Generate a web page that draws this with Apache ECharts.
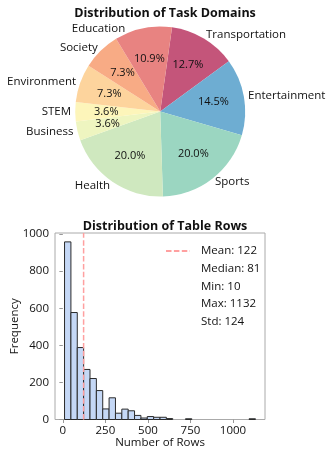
<!DOCTYPE html>
<html><head><meta charset="utf-8">
<script src="https://cdn.jsdelivr.net/npm/echarts@6/dist/echarts.min.js"></script>
<style>html,body{margin:0;padding:0;background:#fff}#c{width:333px;height:454px}</style>
</head><body><div id="c"></div>
<script>
// ---- Pie data ----
const domainNames = ['Transportation','Entertainment','Sports','Health','Business','STEM','Environment','Society','Education'];
const domainCounts = [7, 8, 11, 11, 2, 2, 4, 4, 6];
const domainColors = ['#c4557a','#6eadd2','#9bd6c1','#cfe8bf','#eef5c0','#fdf5ba','#fdd49d','#f8ab85','#e88381'];

// ---- Histogram data ----
const rowBinMin = 10, rowBinMax = 1132, rowBinCount = 30;
const rowFrequencies = [958,577,388,270,221,156,57,117,34,56,47,22,8,16,12,12,5,0,0,4,0,0,0,0,0,0,0,0,0,4];
const meanRows = 122;
const rowStats = ['Mean: 122','Median: 81','Min: 10','Max: 1132','Std: 124'];
const xTicks = [0, 250, 500, 750, 1000];
const yTicks = [0, 200, 400, 600, 800, 1000];

const FONT = 'Open Sans';
const total = domainCounts.reduce((a,b)=>a+b,0);
const pieData = domainNames.map((n,i)=>({name:n, value:domainCounts[i], itemStyle:{color:domainColors[i]}}));

const binW = (rowBinMax - rowBinMin) / rowBinCount;
const histData = [];
rowFrequencies.forEach((c,i)=>{ if (c > 0) histData.push([rowBinMin + i*binW, rowBinMin + (i+1)*binW, c]); });

const PIE_C = [160.2, 111.5], PIE_R = 85;

const chart = echarts.init(document.getElementById('c'), null, {renderer:'canvas'});
chart.setOption({
  animation: false,
  textStyle: {fontFamily: FONT},
  title: [
    {text:'Distribution of Task Domains', left:160, top:2, textAlign:'center',
     textStyle:{fontSize:12.5, fontWeight:'bold', color:'#111', fontFamily:FONT}},
    {text:'Distribution of Table Rows', left:160, top:215, textAlign:'center',
     textStyle:{fontSize:12.5, fontWeight:'bold', color:'#111', fontFamily:FONT}}
  ],
  grid: {left:55, right:68, top:233, bottom:34.5, show:true, borderColor:'#aaa', borderWidth:1,
         backgroundColor:'transparent', containLabel:false, outerBoundsMode:'none'},
  xAxis: {type:'value', min:-46.1, max:1188.1,
    name:'Number of Rows', nameLocation:'middle', nameGap:17, nameMoveOverlap:false,
    nameTextStyle:{fontSize:11.5, color:'#111', fontFamily:FONT},
    splitLine:{show:false}, axisLine:{show:false},
    axisTick:{show:true, length:3.5, lineStyle:{color:'#999'}, customValues:xTicks},
    axisLabel:{fontSize:11.5, color:'#111', margin:5, customValues:xTicks, fontFamily:FONT, formatter:v=>String(v)}},
  yAxis: {type:'value', min:0, max:1005.9,
    name:'Frequency', nameLocation:'middle', nameGap:34, nameRotate:90, nameMoveOverlap:false,
    nameTextStyle:{fontSize:11.5, color:'#111', fontFamily:FONT},
    splitLine:{show:false}, axisLine:{show:false},
    axisTick:{show:true, length:3.5, lineStyle:{color:'#999'}, customValues:yTicks},
    axisLabel:{fontSize:11.5, color:'#111', margin:6, customValues:yTicks, fontFamily:FONT, formatter:v=>String(v)}},
  legend: {orient:'vertical', left:160, top:240, itemWidth:24, itemHeight:8, itemGap:5.7,
    textStyle:{fontSize:11.5, color:'#111', fontFamily:FONT, padding:[0,0,0,6]},
    data: rowStats.map((s,i)=> i===0 ? {name:s, itemStyle:{opacity:0}} : {name:s, itemStyle:{opacity:0}, lineStyle:{opacity:0}})},
  series: [
    {type:'pie', center:PIE_C, radius:PIE_R, startAngle:82, clockwise:true,
     avoidLabelOverlap:false, silent:true, data:pieData,
     itemStyle:{borderWidth:0},
     label:{show:true, position:'outside', fontSize:11.5, color:'#111', fontFamily:FONT, distanceToLabelLine:0,
            formatter:p=>p.name},
     labelLine:{show:false, length:4.2, length2:0},
     labelLayout:p=> p.dataIndex === 8 ? {dx:-17, dy:5} : {}},
    {type:'pie', center:PIE_C, radius:PIE_R*1.2, startAngle:82, clockwise:true,
     avoidLabelOverlap:false, silent:true,
     data: domainNames.map((n,i)=>({name:n+' ', value:domainCounts[i]})),
     itemStyle:{color:'rgba(0,0,0,0)', borderWidth:0},
     label:{show:true, position:'inside', fontSize:11, color:'#111', fontFamily:FONT,
            formatter:p=>(p.value/total*100).toFixed(1)+'%'},
     labelLine:{show:false}},
    {type:'custom', name:'hist', silent:true, data:histData, z:2,
     renderItem:(params, api)=>{
       const p0 = api.coord([api.value(0), api.value(2)]);
       const p1 = api.coord([api.value(1), 0]);
       return {type:'rect', shape:{x:p0[0], y:p0[1], width:p1[0]-p0[0], height:p1[1]-p0[1]},
               style:{fill:'#c5d8f6', stroke:'#2b2b2b', lineWidth:1}};
     }},
    {type:'line', name:rowStats[0], data:[[meanRows,0],[meanRows,1005.9]], symbol:'none', z:5, silent:true,
     color:'#ffa0a0', lineStyle:{color:'#ffa0a0', width:1.5, type:[5.5,2.4]}},
    ...rowStats.slice(1).map(s=>({type:'line', name:s, data:[], symbol:'none', color:'rgba(0,0,0,0)',
       lineStyle:{color:'rgba(0,0,0,0)'}}))
  ]
});
</script>
</body></html>
